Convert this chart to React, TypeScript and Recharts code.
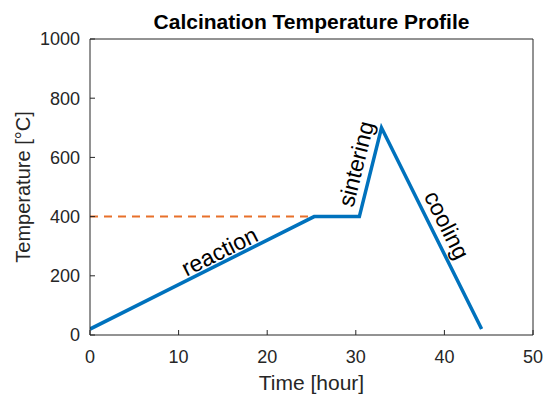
import React from "react";
import {
  LineChart, Line, XAxis, YAxis, ReferenceDot,
} from "recharts";

// Furnace schedule: time (hours) vs temperature (°C)
const profileTime = [0, 25.3, 30.4, 32.9, 44.2];
const profileTemp = [20, 400, 400, 700, 20];

// Dashed guide at the reaction hold temperature
const guideTime = [0, 25.3];
const guideTemp = [400, 400];

const xTicks = [0, 10, 20, 30, 40, 50];
const yTicks = [0, 200, 400, 600, 800, 1000];

// Stage labels: [text, time, temperature, angle]
const stageLabels: [string, number, number, number][] = [
  ["reaction", 14.6, 283, -26.6],
  ["sintering", 30.0, 578, -76],
  ["cooling", 40.3, 372, 63.5],
];

const profile = profileTime.map((t, i) => ({ t, temp: profileTemp[i] }));
const guide = guideTime.map((t, i) => ({ t, temp: guideTemp[i] }));

const FONT = '"Liberation Sans", Arial, Helvetica, sans-serif';
const AXIS = "#262626";
const tickStyle = { fontSize: 18, fill: AXIS, fontFamily: FONT };

export default function App() {
  return (
    <div style={{ position: "fixed", left: 0, top: 0, width: 545, height: 394, background: "#fff" }}>
      <LineChart width={545} height={394} margin={{ top: 0, right: 10, bottom: 0, left: 0 }}>
        <XAxis
          dataKey="t"
          type="number"
          domain={[0, 50]}
          ticks={xTicks}
          allowDataOverflow
          height={59}
          stroke={AXIS}
          tickSize={-5}
          tickMargin={20}
          tick={tickStyle}
          label={{ value: "Time [hour]", position: "center", dy: 18.5, fontSize: 21, fill: AXIS, fontFamily: FONT }}
        />
        <XAxis
          xAxisId="top"
          orientation="top"
          type="number"
          dataKey="t"
          domain={[0, 50]}
          ticks={xTicks}
          allowDataOverflow
          height={39}
          stroke={AXIS}
          tickSize={-5}
          tick={false}
          label={{ value: "Calcination Temperature Profile", position: "center", dy: 2.5, fontSize: 21, fontWeight: "bold", fill: "#000", fontFamily: FONT }}
        />
        <YAxis
          type="number"
          domain={[0, 1000]}
          ticks={yTicks}
          allowDataOverflow
          width={90}
          stroke={AXIS}
          tickSize={-5}
          tickMargin={15}
          tick={tickStyle}
          label={{ value: "Temperature [°C]", angle: -90, position: "center", dx: -22, fontSize: 20, fill: AXIS, fontFamily: FONT }}
        />
        <YAxis
          yAxisId="right"
          orientation="right"
          type="number"
          domain={[0, 1000]}
          ticks={yTicks}
          allowDataOverflow
          width={2}
          stroke={AXIS}
          tickSize={-5}
          tick={false}
        />
        <Line
          data={guide}
          dataKey="temp"
          stroke="#E8702A"
          strokeWidth={2}
          strokeDasharray="8 6"
          dot={false}
          isAnimationActive={false}
        />
        <Line
          data={profile}
          dataKey="temp"
          stroke="#0072BD"
          strokeWidth={3.5}
          strokeLinejoin="miter"
          dot={false}
          isAnimationActive={false}
        />
        {stageLabels.map(([text, t, temp, angle]) => (
          <ReferenceDot
            key={text}
            x={t}
            y={temp}
            r={0}
            stroke="none"
            label={{ value: text, position: "center", angle, fontSize: 23, fill: "#000", fontFamily: FONT }}
          />
        ))}
      </LineChart>
    </div>
  );
}
